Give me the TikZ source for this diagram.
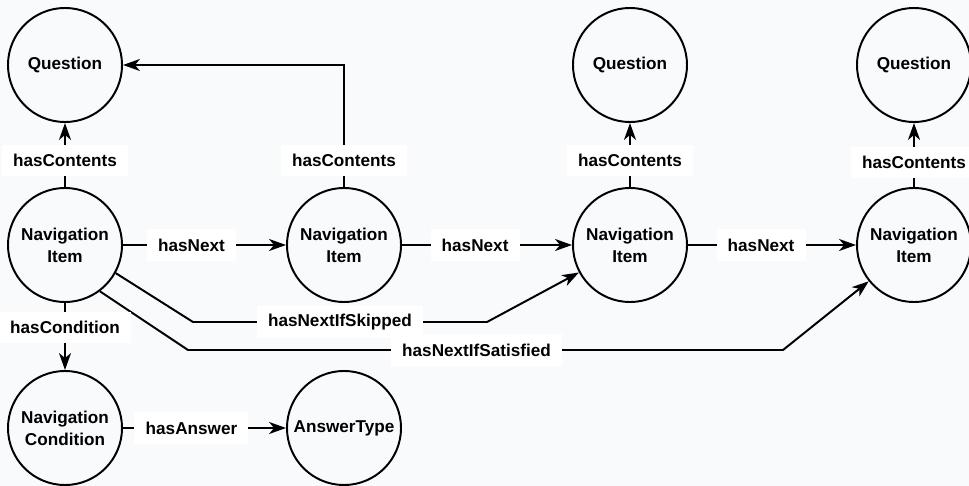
\documentclass[tikz,border=0pt]{standalone}
\usepackage{fontspec}
\setmainfont{Liberation Sans}
\usetikzlibrary{arrows.meta}
\definecolor{bgcol}{RGB}{249,250,252}
\tikzset{
  every node/.style={font=\fontsize{12.2}{15.5}\selectfont\bfseries},
  thing/.style={circle, draw, line width=1.4pt, minimum size=2.85cm, inner sep=0pt, align=center},
  rel/.style={fill=white, inner xsep=0.28cm, minimum height=0.78cm},
  link/.style={line width=1.4pt, -{Stealth[length=12pt,width=8.5pt,inset=3.5pt]}}
}
\begin{document}
\begin{tikzpicture}[x=0.025cm, y=-0.025cm]
\useasboundingbox[fill=bgcol] (0,0) rectangle (969,486);

\node[thing] (q1) at (65, 65) {Question};
\node[thing] (q3) at (630, 65) {Question};
\node[thing] (q4) at (914, 65) {Question};

\node[thing] (ni1) at (65, 245) {Navigation\\Item};
\node[thing] (ni2) at (344, 245) {Navigation\\Item};
\node[thing] (ni3) at (630, 245) {Navigation\\Item};
\node[thing] (ni4) at (914, 245) {Navigation\\Item};

\node[thing] (nc) at (65, 428) {Navigation\\Condition};
\node[thing] (at) at (344, 428) {AnswerType};

\coordinate (sk1) at (193, 322);
\coordinate (sk2) at (487, 322);
\coordinate (sa1) at (188, 350);
\coordinate (sa2) at (783, 350);

\draw[link] (ni1) -- node[rel, pos=0.41] {hasContents} (q1);
\draw[link] (ni2) |- node[rel, pos=0.11] {hasContents} (q1);
\draw[link] (ni3) -- node[rel, pos=0.41] {hasContents} (q3);
\draw[link] (ni4) -- node[rel, pos=0.38] {hasContents} (q4);

\draw[link] (ni1) -- node[rel, pos=0.42] {hasNext} (ni2);
\draw[link] (ni2) -- node[rel, pos=0.43] {hasNext} (ni3);
\draw[link] (ni3) -- node[rel, pos=0.435] {hasNext} (ni4);

\draw[link] (ni1.-29) -- (sk1) -- node[rel] {hasNextIfSkipped} (sk2) -- (ni3);
\draw[link] (ni1.-53) -- (sa1) -- node[rel, pos=0.485] {hasNextIfSatisfied} (sa2) -- (ni4);

\draw[link] (ni1) -- node[rel, pos=0.36] {hasCondition} (nc);
\draw[link] (nc) -- node[rel, pos=0.42] {hasAnswer} (at);
\end{tikzpicture}
\end{document}
